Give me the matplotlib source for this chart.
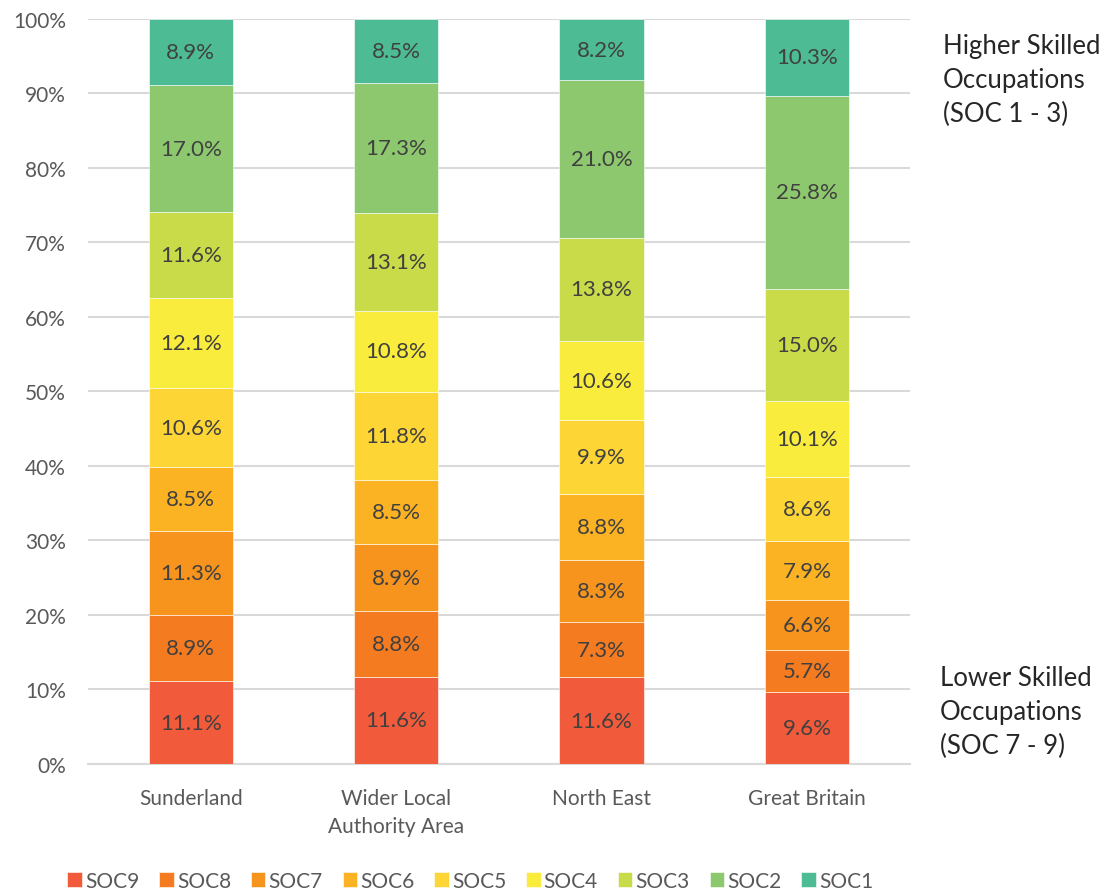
import numpy as np
import matplotlib
matplotlib.use("Agg")
import matplotlib.pyplot as plt
from matplotlib.ticker import PercentFormatter

plt.rcParams['font.family'] = ['Lato', 'DejaVu Sans']

areas = ['Sunderland', 'Wider Local\nAuthority Area', 'North East', 'Great Britain']
groups = ['SOC9', 'SOC8', 'SOC7', 'SOC6', 'SOC5', 'SOC4', 'SOC3', 'SOC2', 'SOC1']

# share of employment by occupation group, bottom (SOC9) to top (SOC1)
sunderland = [11.1, 8.9, 11.3, 8.5, 10.6, 12.1, 11.6, 17.0, 8.9]
wider_la = [11.6, 8.8, 8.9, 8.5, 11.8, 10.8, 13.1, 17.3, 8.5]
north_east = [11.6, 7.3, 8.3, 8.8, 9.9, 10.6, 13.8, 21.0, 8.2]
great_britain = [9.6, 5.7, 6.6, 7.9, 8.6, 10.1, 15.0, 25.8, 10.3]

colors = ['#F15A3A', '#F47B20', '#F7941D', '#FBB323', '#FDD535',
          '#F9EC3C', '#CADB4A', '#8DC86E', '#4DBB93']

values = np.array([sunderland, wider_la, north_east, great_britain])
# 100% stacked: scale each column to its own total
shares = values / values.sum(axis=1, keepdims=True) * 100

fig = plt.figure(figsize=(11.04, 8.95), dpi=100)
ax = fig.add_axes([0.0797, 0.1453, 0.7443, 0.8324])

x = np.arange(len(areas))
bottom = np.zeros(len(areas))
for i, g in enumerate(groups):
    bars = ax.bar(x, shares[:, i], width=0.41, bottom=bottom, color=colors[i],
                  label=g, zorder=3, edgecolor='white', linewidth=0.4)
    for j, b in enumerate(bars):
        ax.text(b.get_x() + b.get_width() / 2, bottom[j] + shares[j, i] / 2,
                f'{values[j, i]:.1f}%', ha='center', va='center',
                fontsize=16, color='#404040', zorder=4)
    bottom += shares[:, i]

ax.set_xlim(-0.5, 3.5)
ax.set_ylim(0, 100)
ax.set_yticks(np.arange(0, 101, 10))
ax.yaxis.set_major_formatter(PercentFormatter(decimals=0))
ax.set_xticks(x)
ax.set_xticklabels(areas, linespacing=1.55)
ax.tick_params(axis='both', length=0, labelsize=15, labelcolor='#595959')
ax.tick_params(axis='x', pad=17)
ax.tick_params(axis='y', pad=16)
ax.grid(axis='y', color='#D9D9D9', linewidth=1.5, zorder=0)
for s in ['top', 'right', 'left']:
    ax.spines[s].set_visible(False)
ax.spines['bottom'].set_color('#D9D9D9')
ax.spines['bottom'].set_linewidth(1.5)

fig.text(0.854, 0.962, 'Higher Skilled\nOccupations\n(SOC 1 - 3)', ha='left',
         va='top', fontsize=18.5, color='#262626', linespacing=1.45)
fig.text(0.851, 0.256, 'Lower Skilled\nOccupations\n(SOC 7 - 9)', ha='left',
         va='top', fontsize=18.5, color='#262626', linespacing=1.45)

fig.legend(loc='center', bbox_to_anchor=(0.426, 0.0145), ncol=9, frameon=False,
           fontsize=15, handlelength=0.7, handleheight=0.7, handletextpad=0.15,
           columnspacing=0.95, labelcolor='#595959')

fig.savefig('out.png', dpi=100)
